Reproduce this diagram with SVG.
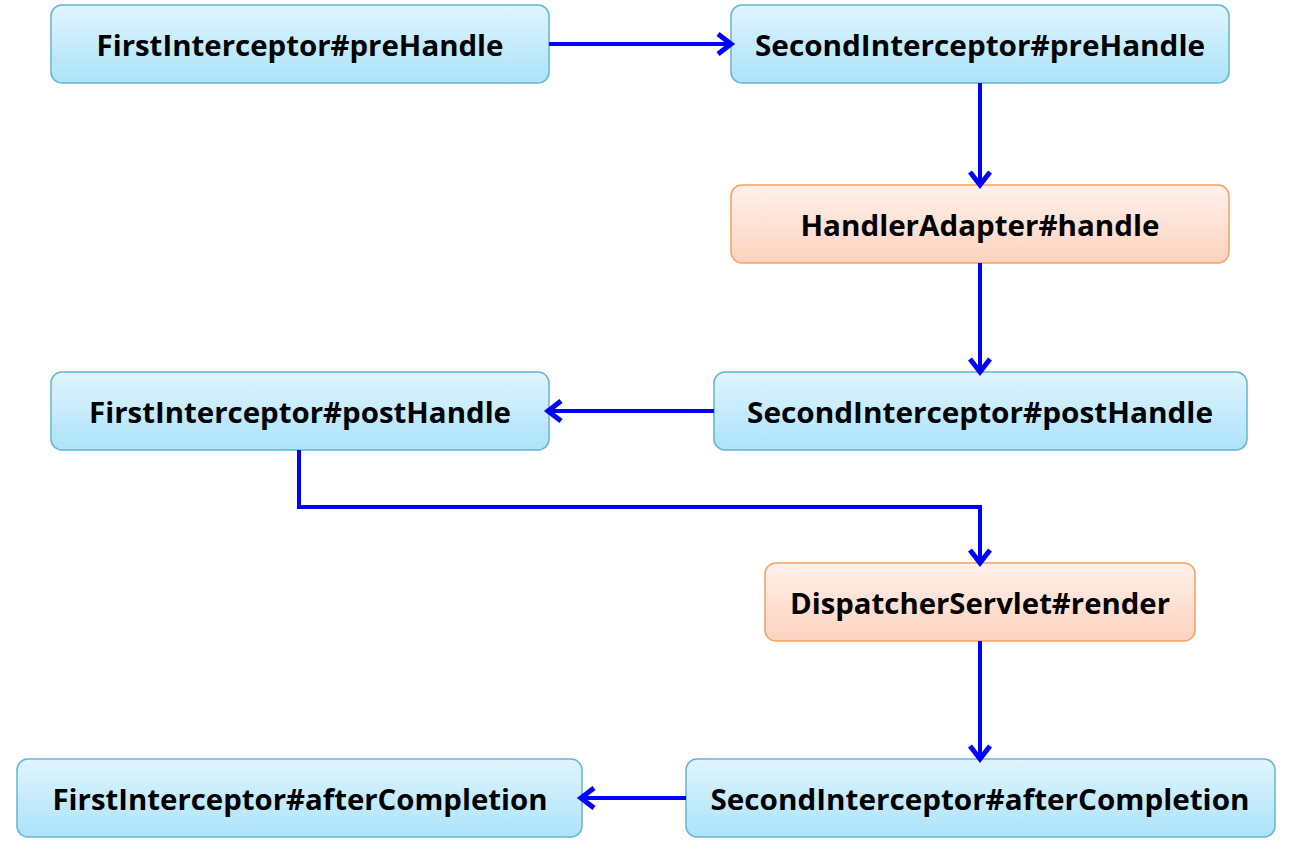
<svg xmlns="http://www.w3.org/2000/svg" width="1306" height="845" viewBox="0 0 1306 845">
<style>
.blue{fill:url(#gb);stroke:#64b5d0;stroke-width:1.5}
.orange{fill:url(#go);stroke:#f7a05f;stroke-width:1.5}
.t{font-family:"Open Sans","Noto Sans",sans-serif;font-weight:bold;font-size:28px;fill:#000;text-anchor:middle}
.c{fill:none;stroke:#0000ff;stroke-width:4}
</style>
<defs>
<linearGradient id="gb" x1="0" y1="0" x2="0" y2="1"><stop offset="0" stop-color="#e0f4fd"/><stop offset="1" stop-color="#ace3fa"/></linearGradient>
<linearGradient id="go" x1="0" y1="0" x2="0" y2="1"><stop offset="0" stop-color="#fff1eb"/><stop offset="1" stop-color="#fdd2bf"/></linearGradient>
<marker id="arr" markerUnits="userSpaceOnUse" markerWidth="30" markerHeight="30" viewBox="-20 -15 30 30" refX="0" refY="0" orient="auto">
<path d="M -14 -10 L -1 0 L -14 10" fill="none" stroke="#0000ff" stroke-width="5"/>
</marker>
</defs>
<rect width="1306" height="845" fill="#fff"/>
<g id="n1"><rect class="blue" x="51" y="5" width="498" height="78" rx="11"/><text class="t" x="300" y="56" textLength="407" lengthAdjust="spacingAndGlyphs">FirstInterceptor#preHandle</text></g>
<g id="n2"><rect class="blue" x="731" y="5" width="498" height="78" rx="11"/><text class="t" x="980" y="56" textLength="450" lengthAdjust="spacingAndGlyphs">SecondInterceptor#preHandle</text></g>
<g id="n3"><rect class="orange" x="731" y="185" width="498" height="78" rx="11"/><text class="t" x="980" y="236" textLength="359" lengthAdjust="spacingAndGlyphs">HandlerAdapter#handle</text></g>
<g id="n4"><rect class="blue" x="714" y="372" width="533" height="78" rx="11"/><text class="t" x="980" y="423" textLength="466" lengthAdjust="spacingAndGlyphs">SecondInterceptor#postHandle</text></g>
<g id="n5"><rect class="blue" x="51" y="372" width="498" height="78" rx="11"/><text class="t" x="300" y="423" textLength="422" lengthAdjust="spacingAndGlyphs">FirstInterceptor#postHandle</text></g>
<g id="n6"><rect class="orange" x="765" y="563" width="430" height="78" rx="11"/><text class="t" x="980" y="614" textLength="380" lengthAdjust="spacingAndGlyphs">DispatcherServlet#render</text></g>
<g id="n7"><rect class="blue" x="686" y="759" width="589" height="78" rx="11"/><text class="t" x="980" y="810" textLength="539" lengthAdjust="spacingAndGlyphs">SecondInterceptor#afterCompletion</text></g>
<g id="n8"><rect class="blue" x="17" y="759" width="565" height="78" rx="11"/><text class="t" x="300" y="810" textLength="495" lengthAdjust="spacingAndGlyphs">FirstInterceptor#afterCompletion</text></g>
<g id="connectors">
<path class="c" d="M 549 44 L 732 44" marker-end="url(#arr)"/>
<path class="c" d="M 980 83 L 980 186" marker-end="url(#arr)"/>
<path class="c" d="M 980 263 L 980 373" marker-end="url(#arr)"/>
<path class="c" d="M 714 411 L 547 411" marker-end="url(#arr)"/>
<path class="c" d="M 299 450 L 299 507 L 980 507 L 980 564" marker-end="url(#arr)"/>
<path class="c" d="M 980 641 L 980 760" marker-end="url(#arr)"/>
<path class="c" d="M 686 798 L 580 798" marker-end="url(#arr)"/>
</g>
</svg>
